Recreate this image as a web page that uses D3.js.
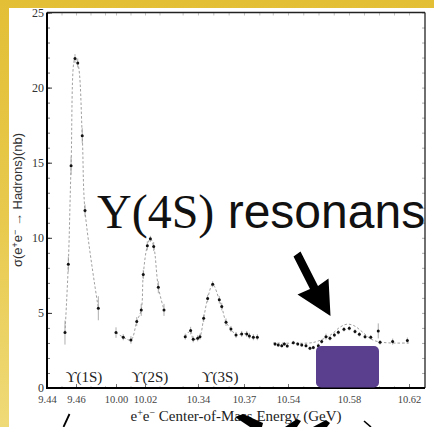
<!DOCTYPE html>
<html><head><meta charset="utf-8">
<script src="https://cdn.jsdelivr.net/npm/d3@7"></script>
<style>html,body{margin:0;padding:0;background:#fff;overflow:hidden}</style>
</head><body><svg id="chart" width="434" height="427"></svg>
<script>
// e+e- -> hadrons cross section scans around the Upsilon resonances (nb vs GeV)
const energy1S = [9.4524, 9.4547, 9.4566, 9.4593, 9.4612, 9.4643, 9.4662, 9.4754];
const sigma1S  = [3.69, 8.24, 14.8, 21.93, 21.64, 16.8, 11.82, 5.31];
const error1S  = [0.8, 0.5, 0.6, 0.3, 0.3, 0.5, 0.4, 0.8];

const energy2S = [10.0000, 10.0050, 10.0103, 10.0143, 10.0174, 10.0188, 10.0216, 10.0237, 10.0260, 10.0292, 10.0331];
const sigma2S  = [3.69, 3.38, 3.2, 4.42, 5.2, 7.56, 9.47, 9.93, 9.42, 6.71, 5.2];
const error2S  = [0.35, 0.2, 0.25, 0.3, 0.4, 0.3, 0.3, 0.2, 0.3, 0.4, 0.4];

const energy3S = [10.3317, 10.3352, 10.3369, 10.3398, 10.3413, 10.3437, 10.3463, 10.3496, 10.3539, 10.3555,
                  10.3583, 10.3615, 10.3648, 10.3685, 10.3718, 10.3735, 10.3761, 10.3787];
const sigma3S  = [3.42, 3.82, 3.24, 3.31, 3.42, 4.64, 5.96, 6.91, 5.87, 5.42,
                  4.38, 3.93, 3.53, 3.6, 3.6, 3.47, 3.38, 3.38];
const error3S  = [0.2, 0.25, 0.2, 0.2, 0.2, 0.25, 0.25, 0.2, 0.25, 0.25,
                  0.25, 0.2, 0.2, 0.2, 0.2, 0.2, 0.2, 0.2];

const energy4S = [10.5315, 10.5336, 10.5359, 10.5376, 10.5395, 10.5435, 10.5464, 10.5490, 10.5518, 10.5544,
                  10.5566, 10.5599, 10.5621, 10.5649, 10.5675, 10.5704, 10.5730, 10.5767, 10.5802, 10.5840,
                  10.5869, 10.5907, 10.5945, 10.5995, 10.6007, 10.6091, 10.6189];
const sigma4S  = [2.93, 2.87, 2.82, 2.93, 2.8, 3.02, 2.93, 2.87, 2.82, 2.64,
                  2.69, 2.82, 3.09, 3.42, 3.31, 3.53, 3.71, 3.91, 3.98, 3.76,
                  3.58, 3.42, 3.38, 3.8, 3.04, 3.09, 3.16];
const error4S  = [0.12, 0.12, 0.12, 0.12, 0.12, 0.12, 0.12, 0.12, 0.12, 0.12,
                  0.12, 0.15, 0.15, 0.2, 0.15, 0.15, 0.15, 0.15, 0.15, 0.15,
                  0.15, 0.15, 0.15, 0.5, 0.15, 0.2, 0.2];

// smooth line-shape curve drawn over the 4S scan
const fitEnergy4S = [10.5302, 10.5544, 10.5590, 10.5675, 10.5741, 10.5787, 10.5833, 10.5893, 10.5940, 10.5987, 10.6073, 10.6207];
const fitSigma4S  = [3.0, 3.0, 3.1, 3.5, 4.05, 4.25, 4.15, 3.7, 3.3, 3.1, 3.0, 3.0];

const xTickValues = [9.44, 9.46, 10.00, 10.02, 10.34, 10.37, 10.54, 10.58, 10.62];
const xTickLabels = ["9.44", "9.46", "10.00", "10.02", "10.34", "10.37", "10.54", "10.58", "10.62"];
const yTickValues = [0, 5, 10, 15, 20, 25];
const yTickLabels = ["0", "5", "10", "15", "20", "25"];

const resonanceNames  = ["\u03D2(1S)", "\u03D2(2S)", "\u03D2(3S)"];
const resonanceCenter = [9.4655, 10.0234, 10.3544];

const W = 434, H = 427;
const frame = {left: 47, right: 425, top: 12.5, bottom: 388};
const serif = "'Liberation Serif','DejaVu Serif',serif";
const sans = "'Liberation Sans',Arial,sans-serif";

// broken energy axis: four scan windows laid side by side
const xStops = [[9.44, 47], [9.482, 107.9], [9.995, 108.75], [10.035, 166.75], [10.32, 167.3],
                [10.385, 267], [10.527, 268.2], [10.54, 288], [10.58, 349], [10.63, 424]];
const x = d3.scaleLinear().domain(xStops.map(d => d[0])).range(xStops.map(d => d[1]));
const y = d3.scaleLinear().domain([0, 25]).range([frame.bottom, frame.top]);

const svg = d3.select("#chart");

// slide backdrop
const defs = svg.append("defs");
const grad = defs.append("linearGradient").attr("id", "gold").attr("x1", 0).attr("y1", 0).attr("x2", 0).attr("y2", 1);
grad.append("stop").attr("offset", 0).attr("stop-color", "#e3bf36");
grad.append("stop").attr("offset", 0.5).attr("stop-color", "#e8c94c");
grad.append("stop").attr("offset", 1).attr("stop-color", "#efda78");
svg.append("rect").attr("width", W).attr("height", H).attr("fill", "url(#gold)");
svg.append("rect").attr("x", 9).attr("y", 8).attr("width", W - 9).attr("height", H - 8).attr("fill", "#fff");

const g = svg.append("g");

// minor ticks along the energy axis (every 10 MeV within each window)
const windows = [[9.44, 9.48], [10.00, 10.03], [10.33, 10.38], [10.53, 10.62]];
const minorX = [];
windows.forEach(([a, b]) => { for (let e = a; e <= b + 1e-9; e += 0.01) minorX.push(+e.toFixed(3)); });

// left and right axes: ticks point inward
g.append("g").attr("transform", `translate(${frame.left},0)`)
  .call(d3.axisRight(y).ticks(25).tickSize(3).tickFormat(""))
  .call(a => a.select(".domain").remove())
  .call(a => a.selectAll("line").attr("stroke", "#555").attr("stroke-width", 0.8));
g.append("g").attr("transform", `translate(${frame.left},0)`)
  .call(d3.axisRight(y).tickValues(yTickValues).tickSize(5).tickFormat(""))
  .call(a => a.select(".domain").remove())
  .call(a => a.selectAll("line").attr("stroke", "#333").attr("stroke-width", 1));
g.append("g").attr("transform", `translate(${frame.right},0)`)
  .call(d3.axisLeft(y).ticks(25).tickSize(3).tickFormat(""))
  .call(a => a.select(".domain").remove())
  .call(a => a.selectAll("line").attr("stroke", "#999").attr("stroke-width", 0.8));

// y labels
g.append("g").attr("transform", `translate(${frame.left - 3},0)`)
  .call(d3.axisLeft(y).tickValues(yTickValues).tickSize(0).tickPadding(0)
        .tickFormat((d, i) => yTickLabels[i]))
  .call(a => a.select(".domain").remove())
  .call(a => a.selectAll("text").attr("font-family", serif).attr("font-size", 12).attr("fill", "#333"));

// bottom and top energy ticks
g.append("g").attr("transform", `translate(0,${frame.bottom})`)
  .call(d3.axisTop(x).tickValues(minorX).tickSize(2).tickFormat(""))
  .call(a => a.select(".domain").remove())
  .call(a => a.selectAll("line").attr("stroke", "#aaa").attr("stroke-width", 0.7));
g.append("g").attr("transform", `translate(0,${frame.bottom})`)
  .call(d3.axisTop(x).tickValues(xTickValues).tickSize(4).tickFormat(""))
  .call(a => a.select(".domain").remove())
  .call(a => a.selectAll("line").attr("stroke", "#555").attr("stroke-width", 0.8));
g.append("g").attr("transform", `translate(0,${frame.top})`)
  .call(d3.axisBottom(x).tickValues(minorX).tickSize(3).tickFormat(""))
  .call(a => a.select(".domain").remove())
  .call(a => a.selectAll("line").attr("stroke", "#aaa").attr("stroke-width", 0.7));
g.append("g").attr("transform", `translate(0,${frame.bottom})`)
  .call(d3.axisBottom(x).tickValues(xTickValues).tickSize(0).tickPadding(8)
        .tickFormat((d, i) => xTickLabels[i]))
  .call(a => a.select(".domain").remove())
  .call(a => a.selectAll("text").attr("font-family", serif).attr("font-size", 10.5).attr("fill", "#444"));

// frame
g.append("line").attr("x1", frame.left).attr("x2", frame.right).attr("y1", frame.top).attr("y2", frame.top)
  .attr("stroke", "#222").attr("stroke-width", 1.3);
g.append("line").attr("x1", frame.right).attr("x2", frame.right).attr("y1", frame.top).attr("y2", frame.bottom)
  .attr("stroke", "#222").attr("stroke-width", 1.3);
g.append("line").attr("x1", frame.left).attr("x2", frame.left).attr("y1", frame.top).attr("y2", frame.bottom + 1)
  .attr("stroke", "#000").attr("stroke-width", 2);
g.append("line").attr("x1", frame.left - 1).attr("x2", frame.right).attr("y1", frame.bottom).attr("y2", frame.bottom)
  .attr("stroke", "#000").attr("stroke-width", 2);

// scans
const scans = [
  {e: energy1S, s: sigma1S, err: error1S},
  {e: energy2S, s: sigma2S, err: error2S},
  {e: energy3S, s: sigma3S, err: error3S},
  {e: energy4S, s: sigma4S, err: error4S}
];
const line = d3.line().x(d => x(d[0])).y(d => y(d[1])).curve(d3.curveCatmullRom.alpha(0.5));

scans.forEach((sc, k) => {
  const pts = sc.e.map((e, i) => [e, sc.s[i], sc.err[i]]);
  const curvePts = k === 3 ? fitEnergy4S.map((e, i) => [e, fitSigma4S[i]]) : pts;
  g.append("path").datum(curvePts).attr("d", line)
    .attr("fill", "none").attr("stroke", "#888").attr("stroke-width", 0.8).attr("stroke-dasharray", "2.5,2");
  g.append("g").selectAll("line").data(pts).join("line")
    .attr("x1", d => x(d[0])).attr("x2", d => x(d[0]))
    .attr("y1", d => y(d[1] - d[2])).attr("y2", d => y(d[1] + d[2]))
    .attr("stroke", "#999").attr("stroke-width", 0.8);
  g.append("g").selectAll("circle").data(pts).join("circle")
    .attr("cx", d => x(d[0])).attr("cy", d => y(d[1])).attr("r", 1.5).attr("fill", "#111");
});

// resonance names
g.append("g").selectAll("text").data(resonanceNames).join("text")
  .attr("x", (d, i) => x(resonanceCenter[i])).attr("y", 382)
  .attr("text-anchor", "middle").attr("font-family", serif).attr("font-size", 15).attr("fill", "#222")
  .text(d => d);

// axis titles
const xt = svg.append("text").attr("x", 236).attr("y", 421).attr("text-anchor", "middle")
  .attr("font-family", serif).attr("font-size", 15).attr("fill", "#222");
xt.append("tspan").text("e");
xt.append("tspan").attr("dy", -5).attr("font-size", 10).text("+");
xt.append("tspan").attr("dy", 5).text("e");
xt.append("tspan").attr("dy", -5).attr("font-size", 10).text("\u2212");
xt.append("tspan").attr("dy", 5).text(" Center-of-Mass Energy (GeV)");

const yt = svg.append("text").attr("transform", "translate(22,200) rotate(-90)").attr("text-anchor", "middle")
  .attr("font-family", sans).attr("font-size", 13).attr("fill", "#333");
yt.append("tspan").text("\u03C3(e");
yt.append("tspan").attr("dy", -4).attr("font-size", 9).text("+");
yt.append("tspan").attr("dy", 4).text("e");
yt.append("tspan").attr("dy", -4).attr("font-size", 9).text("\u2212");
yt.append("tspan").attr("dy", 4).text(" \u2192 Hadrons)(nb)");

// annotation
const ann = svg.append("text").attr("x", 97).attr("y", 228).attr("font-size", 48).attr("fill", "#111");
ann.append("tspan").attr("font-family", serif).text("\u03A5(4S)");
ann.append("tspan").attr("font-family", sans).text(" resonans");

svg.append("path")
  .attr("d", "M293.5,256.5 L300.5,251.5 L318,286 L328.5,278.5 L330.5,316 L297.5,294.5 L310,289 Z")
  .attr("fill", "#000");

svg.append("rect").attr("x", 316).attr("y", 346).attr("width", 63).attr("height", 41.5).attr("rx", 5)
  .attr("fill", "#5a3f8f");

// arrow shapes along the slide's lower edge
svg.append("line").attr("x1", 69.5).attr("y1", 414).attr("x2", 63.5).attr("y2", 427)
  .attr("stroke", "#000").attr("stroke-width", 1.8);
svg.append("path").attr("d", "M235,417 L243,414 L263,423 L262,427 L250,427 Z").attr("fill", "#000");
svg.append("path").attr("d", "M285,427 L297,419 L301,421 L297,427 Z").attr("fill", "#000");
svg.append("path").attr("d", "M313,427 L326,420 L330,423 L327,427 Z").attr("fill", "#000");
svg.append("line").attr("x1", 364).attr("y1", 421).attr("x2", 371).attr("y2", 427)
  .attr("stroke", "#000").attr("stroke-width", 1.6);
</script></body></html>
